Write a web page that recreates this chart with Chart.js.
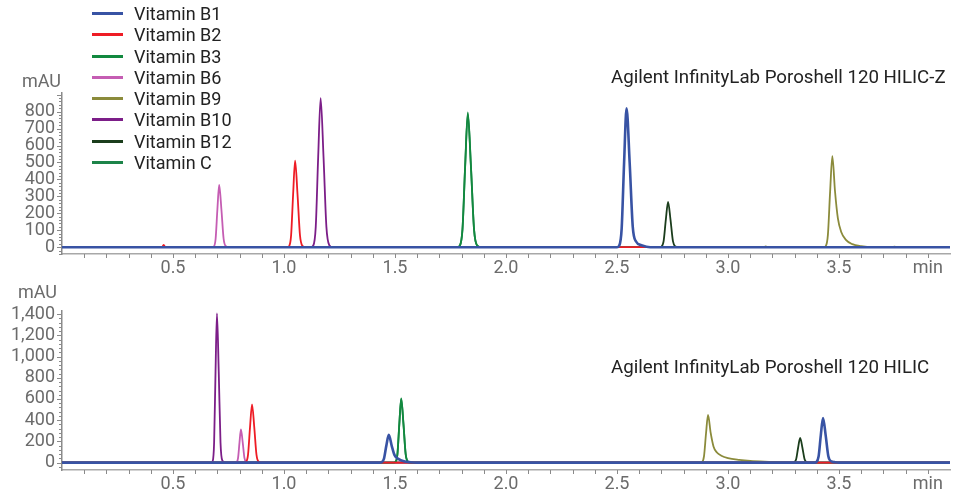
<!doctype html>
<html lang="en">
<head>
<meta charset="utf-8">
<script src="https://cdn.jsdelivr.net/npm/chart.js"></script>
<style>
  body { margin: 0; background: #fff; font-family: Roboto, sans-serif; }
  #wrap { position: relative; width: 956px; height: 493px; overflow: hidden; }
  canvas { position: absolute; left: 0; }
  #topChart { top: 0; }
  #botChart { top: 285px; }
  .txt { position: absolute; font-size: 18px; line-height: 18px; white-space: nowrap; }
  .unit { color: #6b6b6b; text-align: right; }
  .title { color: #222; font-size: 18.7px; }
  #legend { position: absolute; left: 92px; top: 3px; }
  .item { height: 21.25px; display: flex; align-items: center; font-size: 18px; color: #222; }
  .swatch { width: 31px; height: 3px; margin-right: 11px; }
</style>
</head>
<body>
<div id="wrap">
  <canvas id="topChart" width="956" height="285"></canvas>
  <canvas id="botChart" width="956" height="208"></canvas>
  <div class="txt unit" style="left:10px;top:72px;width:51px">mAU</div>
  <div class="txt unit" style="left:6px;top:283px;width:51px">mAU</div>
  <div class="txt title" style="left:611px;top:68px">Agilent InfinityLab Poroshell 120 HILIC-Z</div>
  <div class="txt title" style="left:611px;top:358px">Agilent InfinityLab Poroshell 120 HILIC</div>
  <div id="legend"></div>
</div>
<script>
// series names and colours (legend order)
const names = ['Vitamin B1', 'Vitamin B2', 'Vitamin B3', 'Vitamin B6', 'Vitamin B9', 'Vitamin B10', 'Vitamin B12', 'Vitamin C'];
const colors = ['#3853a4', '#ee1c25', '#12893f', '#c55db3', '#8b8b3b', '#7c1e88', '#1b3d1c', '#1d8449'];

// x tick labels (min) and y tick labels (mAU)
const xTicks = [0.5, 1.0, 1.5, 2.0, 2.5, 3.0, 3.5];
const xUnitPos = 3.9;
const topYTicks = [0, 100, 200, 300, 400, 500, 600, 700, 800];
const botYTicks = [0, 200, 400, 600, 800, 1000, 1200, 1400];

// HILIC-Z traces: [time (min), mAU]
const zB1 = [[0,0],[2.5,0],[2.51,9],[2.521,110],[2.532,500],[2.543,820],[2.557,500],[2.571,120],[2.585,35],[2.61,12],[2.65,0],[4,0]];
const zB2 = [[0,0],[0.45,0],[0.458,14],[0.466,0],[1.014,0],[1.023,6],[1.032,70],[1.041,310],[1.05,511],[1.061,310],[1.072,70],[1.083,8],[1.095,0],[4,0]];
const zB3 = [[0,0],[1.78,0],[1.792,9],[1.804,107],[1.816,482],[1.828,795],[1.842,482],[1.856,107],[1.87,10],[1.89,0],[4,0]];
const zB6 = [[0,0],[0.676,0],[0.684,4],[0.692,50],[0.7,224],[0.708,367],[0.718,224],[0.728,50],[0.738,6],[0.75,0],[4,0]];
const zB9 = [[0,0],[3.16,0],[3.17,5],[3.18,0],[3.43,0],[3.44,6],[3.45,73],[3.46,328],[3.47,538],[3.482,330],[3.495,170],[3.51,90],[3.53,45],[3.56,18],[3.6,6],[3.65,0],[3.74,0],[3.75,3],[3.76,0],[4,0]];
const zB10 = [[0,0],[1.12,0],[1.132,10],[1.143,120],[1.154,534],[1.165,880],[1.178,534],[1.191,120],[1.204,12],[1.22,0],[4,0]];
const zB12 = [[0,0],[2.69,0],[2.7,3],[2.71,36],[2.72,163],[2.73,268],[2.741,163],[2.752,36],[2.763,4],[2.775,0],[4,0]];
const zC = [[0,0],[1.78,0],[1.792,9],[1.804,105],[1.816,475],[1.828,785],[1.842,475],[1.856,105],[1.87,10],[1.89,0],[4,0]];

// HILIC traces
const hB1 = [[0,0],[1.43,0],[1.439,3],[1.45,35],[1.461,160],[1.472,261],[1.485,160],[1.498,70],[1.515,35],[1.54,12],[1.57,3],[1.6,0],[3.39,0],[3.398,5],[3.408,57],[3.418,257],[3.428,421],[3.44,257],[3.452,60],[3.465,12],[3.48,4],[3.5,0],[4,0]];
const hB2 = [[0,0],[0.82,0],[0.829,6],[0.838,75],[0.847,335],[0.856,550],[0.866,335],[0.876,75],[0.886,8],[0.9,0],[4,0]];
const hB3 = [[0,0],[1.495,0],[1.503,7],[1.511,82],[1.5196,370],[1.528,605],[1.538,370],[1.548,82],[1.558,9],[1.57,0],[4,0]];
const hB6 = [[0,0],[0.78,0],[0.787,4],[0.793,42],[0.7996,190],[0.806,314],[0.814,190],[0.822,42],[0.83,5],[0.84,0],[4,0]];
const hB9 = [[0,0],[2.598,0],[2.605,6],[2.612,0],[2.875,0],[2.883,5],[2.892,61],[2.901,274],[2.91,449],[2.922,280],[2.935,150],[2.95,95],[2.97,65],[3.0,42],[3.05,25],[3.1,15],[3.2,6],[3.26,0],[4,0]];
const hB10 = [[0,0],[0.672,0],[0.679,15],[0.6852,190],[0.6916,858],[0.698,1407],[0.706,858],[0.714,190],[0.722,20],[0.735,0],[4,0]];
const hB12 = [[0,0],[3.29,0],[3.298,3],[3.307,32],[3.316,142],[3.325,233],[3.335,142],[3.345,32],[3.355,4],[3.365,0],[4,0]];
const hC = [[0,0],[1.495,0],[1.503,7],[1.511,80],[1.5196,365],[1.528,598],[1.538,365],[1.548,80],[1.558,9],[1.57,0],[4,0]];

const topTraces = [zB1, zB2, zB3, zB6, zB9, zB10, zB12, zC];
const botTraces = [hB1, hB2, hB3, hB6, hB9, hB10, hB12, hC];

// legend
var legend = document.getElementById('legend');
names.forEach(function (n, i) {
  var row = document.createElement('div');
  row.className = 'item';
  row.innerHTML = '<span class="swatch" style="background:' + colors[i] + '"></span>' + n;
  legend.appendChild(row);
});

// minor/major tick marks drawn through the chart's scales
const tickMarks = {
  id: 'tickMarks',
  afterDraw(chart, args, opts) {
    var ctx = chart.ctx, xs = chart.scales.x, ys = chart.scales.y;
    ctx.save();
    ctx.strokeStyle = '#8a8a8a';
    ctx.lineWidth = 1;
    ctx.beginPath();
    for (var k = Math.ceil(ys.min / opts.yMinor); k * opts.yMinor <= ys.max; k++) {
      var v = k * opts.yMinor;
      var py = Math.round(ys.getPixelForValue(v)) + 0.5;
      var len = (v % opts.yMajor === 0) ? 5 : 3;
      ctx.moveTo(xs.left - len, py);
      ctx.lineTo(xs.left, py);
    }
    for (var j = 1; j < 40; j++) {
      var px = Math.round(xs.getPixelForValue(j / 10)) + 0.5;
      ctx.moveTo(px, ys.bottom);
      ctx.lineTo(px, ys.bottom + 4);
    }
    ctx.stroke();
    ctx.restore();
  }
};

function makeChart(id, traces, yMin, yMax, yTicks, padTop, xHeight, yMinor, yMajor) {
  var datasets = traces.map(function (t, i) {
    return {
      label: names[i],
      data: t.map(function (p) { return { x: p[0], y: p[1] }; }),
      borderColor: colors[i],
      borderWidth: i === 0 ? 2.6 : 1.8,
      order: i,
      pointRadius: 0,
      cubicInterpolationMode: 'monotone',
      fill: false
    };
  });
  return new Chart(document.getElementById(id), {
    type: 'line',
    data: { datasets: datasets },
    plugins: [tickMarks],
    options: {
      responsive: false,
      animation: false,
      layout: { padding: { top: padTop, right: 6, left: 0, bottom: 0 } },
      plugins: {
        legend: { display: false },
        tooltip: { enabled: false },
        tickMarks: { yMinor: yMinor, yMajor: yMajor }
      },
      scales: {
        x: {
          type: 'linear',
          min: 0,
          max: 4.0,
          afterFit: function (s) { s.height = xHeight; },
          afterBuildTicks: function (s) {
            s.ticks = xTicks.concat([xUnitPos]).map(function (v) { return { value: v }; });
          },
          grid: { display: false, drawTicks: false },
          border: { display: true, color: '#a8a8a8', width: 1.5 },
          ticks: {
            autoSkip: false,
            maxRotation: 0,
            padding: 4,
            color: '#6b6b6b',
            font: { family: 'Roboto', size: 18 },
            callback: function (v) { return v === xUnitPos ? 'min' : v.toFixed(1); }
          }
        },
        y: {
          min: yMin,
          max: yMax,
          afterFit: function (s) { s.width = 62; },
          afterBuildTicks: function (s) {
            s.ticks = yTicks.map(function (v) { return { value: v }; });
          },
          grid: { display: false, drawTicks: false },
          border: { display: true, color: '#8a8a8a', width: 1.5 },
          ticks: {
            autoSkip: false,
            padding: 7,
            color: '#6b6b6b',
            font: { family: 'Roboto', size: 18 },
            callback: function (v) { return v.toLocaleString('en-US'); }
          }
        }
      }
    }
  });
}

makeChart('topChart', topTraces, -40, 910, topYTicks, 93, 31, 20, 100);
makeChart('botChart', botTraces, -70, 1430, botYTicks, 26, 23, 40, 200);
</script>
</body>
</html>
